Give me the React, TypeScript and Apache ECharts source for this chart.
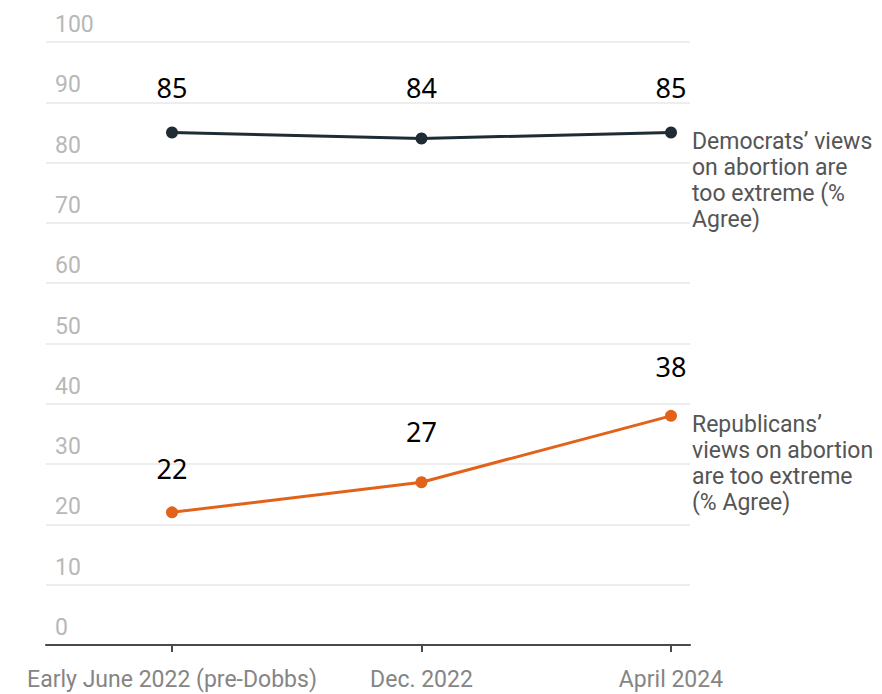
import React, { useEffect, useRef } from "react";
import * as echarts from "echarts";

const categories = ["Early June 2022 (pre-Dobbs)", "Dec. 2022", "April 2024"];
const democratsValues = [85, 84, 85];
const republicansValues = [22, 27, 38];
const yMin = 0;
const yMax = 100;
const yInterval = 10;
const democratsLabel = "Democrats’ views\non abortion are\ntoo extreme (%\nAgree)";
const republicansLabel = "Republicans’\nviews on abortion\nare too extreme\n(% Agree)";
// label lift above each point (px), as placed in the original
const democratsLabelLift = [25, 31, 25];
const republicansLabelLift = [24, 31, 30];

const DEM_COLOR = "#1f2c33";
const REP_COLOR = "#e2621a";

export default function App() {
  const ref = useRef<HTMLDivElement>(null);

  useEffect(() => {
    document.body.style.margin = "0";
    if (!ref.current) return;
    const chart = echarts.init(ref.current, undefined, { renderer: "svg" });

    const labelStyle = {
      show: true,
      position: "top",
      color: "#000",
      fontSize: 27,
      fontFamily: "Noto Sans",
    };

    const withLift = (values: number[], lifts: number[]) =>
      values.map((v, i) => ({ value: v, label: { distance: lifts[i] } }));

    chart.setOption({
      animation: false,
      grid: [
        { left: 46, right: 192, top: 42, bottom: 49 },
        { left: 172, right: 211, top: 42, bottom: 49 },
      ],
      xAxis: [
        {
          type: "value",
          gridIndex: 0,
          min: 0,
          max: 1,
          axisLine: { show: true, lineStyle: { color: "#4a4a4a", width: 2 } },
          axisTick: { show: false },
          axisLabel: { show: false },
          splitLine: { show: false },
        },
        {
          type: "category",
          gridIndex: 1,
          data: categories,
          boundaryGap: false,
          axisLine: { show: false },
          axisTick: { show: true, length: 7, lineStyle: { color: "#4a4a4a", width: 2 } },
          axisLabel: {
            color: "#858585",
            fontSize: 23,
            lineHeight: 24,
            fontFamily: "Roboto",
            margin: 22,
            interval: 0,
          },
          splitLine: { show: false },
        },
      ],
      yAxis: [
        {
          type: "value",
          gridIndex: 0,
          min: yMin,
          max: yMax,
          interval: yInterval,
          axisLine: { show: false },
          axisTick: { show: false },
          axisLabel: {
            inside: true,
            margin: 9,
            verticalAlign: "bottom",
            padding: [0, 0, 6, 0],
            color: "#b8b8b8",
            fontSize: 23,
            fontFamily: "Roboto",
          },
          splitLine: { show: true, lineStyle: { color: "#ededed", width: 2 } },
        },
        {
          type: "value",
          gridIndex: 1,
          min: yMin,
          max: yMax,
          interval: yInterval,
          show: false,
          splitLine: { show: false },
        },
      ],
      series: [
        {
          type: "line",
          name: "Democrats",
          xAxisIndex: 1,
          yAxisIndex: 1,
          data: withLift(democratsValues, democratsLabelLift),
          symbol: "circle",
          symbolSize: 12,
          lineStyle: { color: DEM_COLOR, width: 3 },
          itemStyle: { color: DEM_COLOR },
          label: labelStyle,
          z: 5,
        },
        {
          type: "line",
          name: "Republicans",
          xAxisIndex: 1,
          yAxisIndex: 1,
          data: withLift(republicansValues, republicansLabelLift),
          symbol: "circle",
          symbolSize: 12,
          lineStyle: { color: REP_COLOR, width: 3 },
          itemStyle: { color: REP_COLOR },
          label: labelStyle,
          z: 5,
        },
      ],
    });

    const last = categories.length - 1;
    const demPt = chart.convertToPixel({ xAxisIndex: 1, yAxisIndex: 1 }, [last, democratsValues[last]]) as number[];
    const repPt = chart.convertToPixel({ xAxisIndex: 1, yAxisIndex: 1 }, [last, republicansValues[last]]) as number[];

    const endText = (pt: number[], text: string) => ({
      type: "text",
      x: pt[0] + 21,
      y: pt[1] - 4,
      style: {
        text,
        fill: "#555",
        fontSize: 23,
        lineHeight: 26,
        fontFamily: "Roboto",
        align: "left",
        verticalAlign: "top",
      },
    });

    chart.setOption({
      graphic: [endText(demPt, democratsLabel), endText(repPt, republicansLabel)],
    });

    return () => chart.dispose();
  }, []);

  return <div ref={ref} style={{ width: 882, height: 694 }} />;
}
